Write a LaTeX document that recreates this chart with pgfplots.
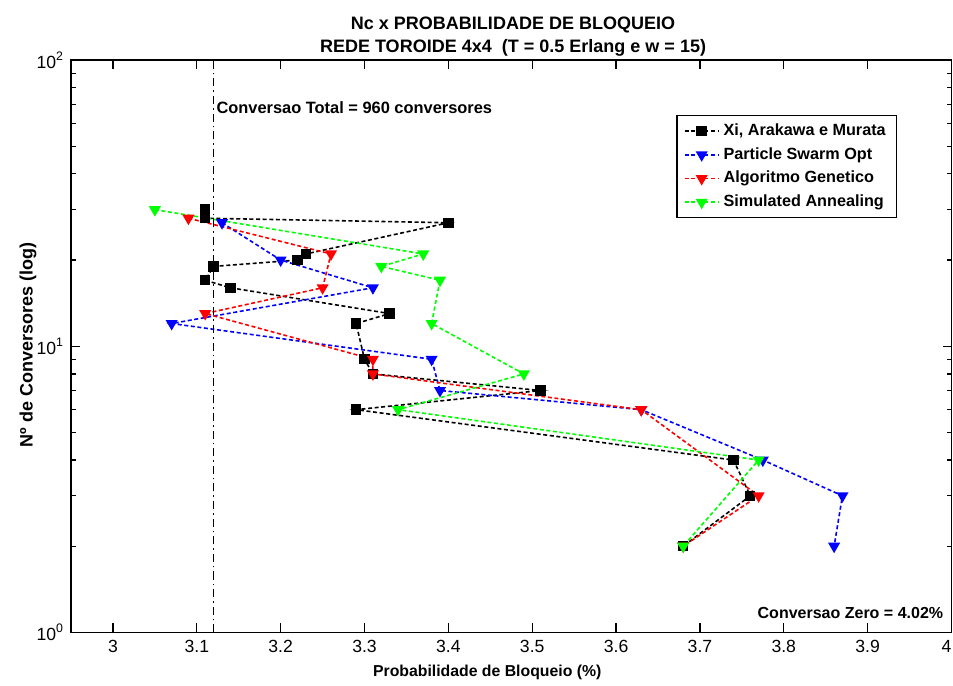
\documentclass[border=0pt]{standalone}
\usepackage{fontspec}
\setmainfont{Liberation Sans}
\usepackage{pgfplots}
\pgfplotsset{compat=1.18}
\pgfplotsset{
  ser/.style={line width=0.8pt, dash pattern=on 2pt off 1.3pt, mark options={solid}},
  sq/.style={mark=square*, mark size=2.2pt},
  tri/.style={mark=triangle*, mark size=2.7pt, mark options={solid, rotate=180}},
}
\begin{document}
\begin{tikzpicture}
\begin{axis}[
  name=ax,
  scale only axis,
  width=440pt, height=286pt,
  xmin=2.95, xmax=4, ymode=log, ymin=1, ymax=100,
  xtick={3,3.1,3.2,3.3,3.4,3.5,3.6,3.7,3.8,3.9,4},
  xticklabels={3,3.1,3.2,3.3,3.4,3.5,3.6,3.7,3.8,3.9,\llap{4}},
  ytick={1,10,100},
  yticklabels={10\textsuperscript{0},10\textsuperscript{1},10\textsuperscript{2}},
  minor ytick={2,3,4,5,6,7,8,9,20,30,40,50,60,70,80,90},
  tick pos=both, tick align=inside,
  major tick length=4.5pt, minor tick length=2.5pt,
  every tick/.style={black, line width=0.6pt},
  axis line style={line width=0.8pt},
  ticklabel style={font=\fontsize{8.8}{10}\selectfont},
  xticklabel style={yshift=-0.5pt},
  legend style={at={(0.9386,0.904)}, anchor=north east, draw=black, line width=0.7pt,
    font=\bfseries\fontsize{8.1}{9}\selectfont, cells={anchor=west}, row sep=0.5pt,
    inner xsep=3.5pt, inner ysep=2pt, fill=white},
]
\addplot[ser, black, sq] coordinates {
(3.11,30) (3.11,28) (3.40,27) (3.23,21) (3.22,20) (3.12,19) (3.11,17) (3.14,16)
(3.33,13) (3.29,12) (3.30,9) (3.31,8) (3.51,7) (3.29,6) (3.74,4) (3.76,3) (3.68,2)};
\addlegendentry{Xi, Arakawa e Murata}
\addplot[ser, blue, tri] coordinates {
(3.13,27) (3.20,20) (3.31,16) (3.07,12) (3.38,9) (3.39,7) (3.63,6) (3.775,4) (3.87,3) (3.86,2)};
\addlegendentry{Particle Swarm Opt}
\addplot[ser, red, tri] coordinates {
(3.09,28) (3.26,21) (3.25,16) (3.11,13) (3.31,9) (3.31,8) (3.63,6) (3.77,3) (3.68,2)};
\addlegendentry{Algoritmo Genetico}
\addplot[ser, green, tri] coordinates {
(3.05,30) (3.37,21) (3.32,19) (3.39,17) (3.38,12) (3.49,8) (3.34,6) (3.77,4) (3.68,2)};
\addlegendentry{Simulated Annealing}
\addplot[black, line width=0.7pt, dash pattern=on 4pt off 2pt on 0.8pt off 2pt, forget plot] coordinates {(3.12,1) (3.12,100)};
\node[anchor=west, font=\bfseries\fontsize{8.2}{9}\selectfont, inner sep=0pt] at (axis cs:3.123,68) {Conversao Total = 960 conversores};
\node[anchor=east, font=\bfseries\fontsize{8}{9}\selectfont, inner sep=0pt] at (rel axis cs:0.991,0.0341) {Conversao Zero = 4.02\%};
\coordinate (T) at (rel axis cs:0.502,1);
\coordinate (XL) at (rel axis cs:0.4727,0);
\coordinate (YL) at (rel axis cs:0,0.502);
\end{axis}
\node[font=\bfseries\fontsize{9}{10}\selectfont, inner sep=0pt] at ([yshift=17.5pt]T) {Nc x PROBABILIDADE DE BLOQUEIO};
\node[font=\bfseries\fontsize{9}{10}\selectfont, inner sep=0pt] at ([yshift=6pt]T) {REDE TOROIDE 4x4 \ (T = 0.5 Erlang e w = 15)};
\node[font=\bfseries\fontsize{7.9}{9}\selectfont, inner sep=0pt] at ([yshift=-20pt]XL) {Probabilidade de Bloqueio (\%)};
\node[font=\bfseries\fontsize{9}{10}\selectfont, inner sep=0pt, rotate=90] at ([xshift=-21.5pt]YL) {Nº de Conversores (log)};
\pgfresetboundingbox
\path[use as bounding box] ([shift={(-35.5pt,-26.5pt)}]ax.south west) rectangle ([shift={(0.75pt,30pt)}]ax.north east);
\end{tikzpicture}
\end{document}
